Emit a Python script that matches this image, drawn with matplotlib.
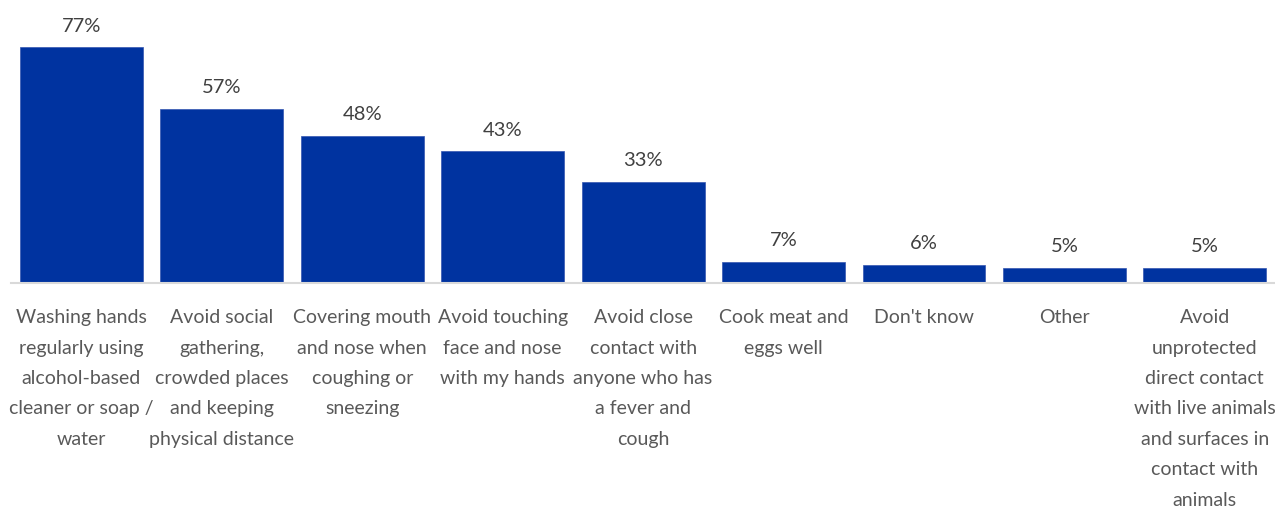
import matplotlib.pyplot as plt

categories = [
    "Washing hands\nregularly using\nalcohol-based\ncleaner or soap /\nwater",
    "Avoid social\ngathering,\ncrowded places\nand keeping\nphysical distance",
    "Covering mouth\nand nose when\ncoughing or\nsneezing",
    "Avoid touching\nface and nose\nwith my hands",
    "Avoid close\ncontact with\nanyone who has\na fever and\ncough",
    "Cook meat and\neggs well",
    "Don't know",
    "Other",
    "Avoid\nunprotected\ndirect contact\nwith live animals\nand surfaces in\ncontact with\nanimals",
]
values = [77, 57, 48, 43, 33, 7, 6, 5, 5]

BAR_COLOR = "#0033A0"

fig = plt.figure(figsize=(12.75, 5.1), dpi=100)
ax = fig.add_axes([0.0088, 0.443, 0.9912, 0.54])

x = list(range(len(values)))
ax.bar(x, values, width=0.875, color=BAR_COLOR, edgecolor="#3355B0", linewidth=0.5)

ax.set_xlim(-0.5, len(values) - 0.5)
ax.set_ylim(0, 90)

for xi, v in zip(x, values):
    ax.annotate(f"{v}%", (xi, v), xytext=(0, 10), textcoords="offset points",
                ha="center", va="bottom", fontsize=14.5, color="#404040",
                family="Lato")

for xi, label in zip(x, categories):
    ax.annotate(label, (xi, 0), xytext=(0, -18), textcoords="offset points",
                ha="center", va="top", fontsize=14, color="#595959",
                family="Lato", linespacing=1.96)

for side in ("top", "right", "left"):
    ax.spines[side].set_visible(False)
ax.spines["bottom"].set_color("#D9D9D9")
ax.spines["bottom"].set_linewidth(1.5)
ax.set_xticks([])
ax.set_yticks([])

fig.savefig("out.png", dpi=100)
